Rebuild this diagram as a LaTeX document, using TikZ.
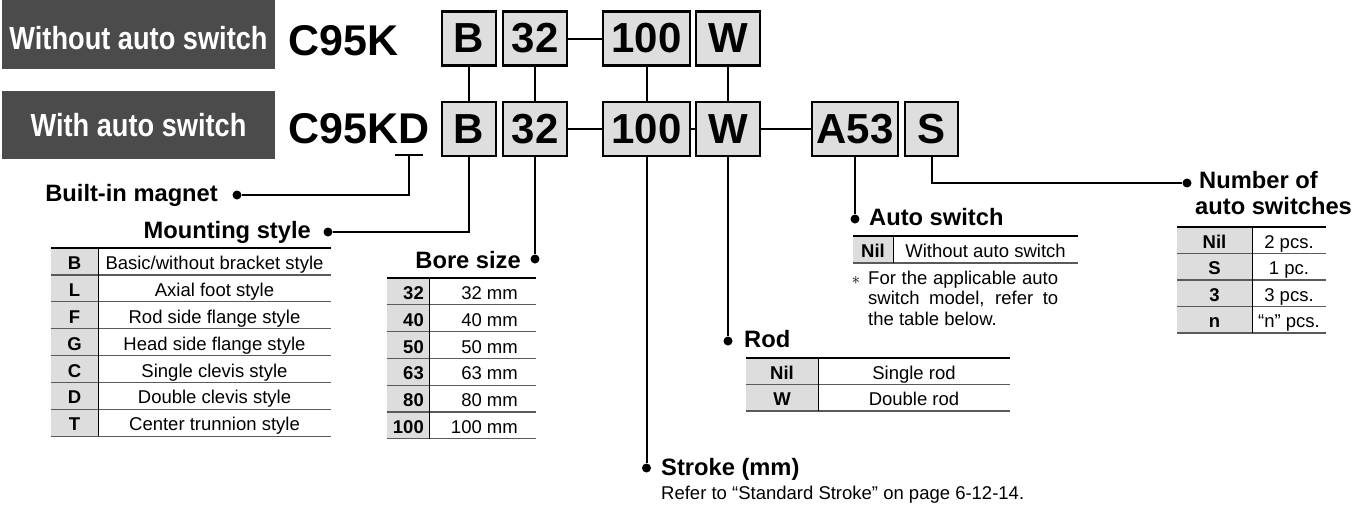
\documentclass[tikz,border=0pt]{standalone}
\usepackage{fontspec}
\setmainfont{Liberation Sans}
\newfontfamily\narrowfont[FakeStretch=0.85]{Liberation Sans}
\usetikzlibrary{positioning, calc}
\definecolor{bannerbg}{HTML}{4B4B4B}
\definecolor{codefill}{HTML}{DEDEDE}
\definecolor{keyfill}{HTML}{DDDDDD}
\definecolor{rulegray}{HTML}{5A5A5A}
\newcommand{\setfs}[1]{\fontsize{#1}{#1}\selectfont}
\newcommand{\setfsl}[2]{\fontsize{#1}{#2}\selectfont}

\begin{document}
\begin{tikzpicture}[x=1pt, y=-1pt,
    banner/.style={fill=bannerbg, text=white, minimum width=273pt, minimum height=#1, inner sep=0pt, font=\narrowfont\bfseries\setfs{32}},
    codebox/.style={draw, line width=2.2pt, fill=codefill, minimum width=#1, minimum height=54pt, inner sep=0pt, font=\bfseries\setfs{42}},
    part/.style={anchor=base west, inner sep=0pt, font=\bfseries\setfs{43}},
    headtxt/.style={inner sep=0pt, font=\bfseries\setfs{23.7}},
    tabcell/.style={inner sep=0pt, anchor=base, font=\setfs{18.5}},
    keycell/.style={inner sep=0pt, anchor=base, font=\bfseries\setfs{18.5}},
    leaddot/.style={circle, fill, inner sep=0pt, minimum size=9pt},
    leader/.style={line width=2pt},
    toprule/.style={line width=2.2pt},
    rowrule/.style={line width=1.3pt, color=rulegray},
    colrule/.style={line width=1pt}
]
\useasboundingbox (0,0) rectangle (1368,504);

\node[banner=69pt, text height=31pt] (nobanner) at (138.5,34.5) {Without auto switch};
\node[banner=68pt] (wbanner) at (138.5,125) {With auto switch};
\node[part] (nocode) at (288,55) {C95K};
\node[part] (wcode) at (288,143) {C95KD};

\node[codebox=54pt] (tB) at (469,38.5) {B};
\node[codebox=64pt] (t32) at (535,38.5) {32};
\node[codebox=87pt] (t100) at (646.5,38.5) {100};
\node[codebox=64pt] (tW) at (728,38.5) {W};

\node[codebox=54pt] (bB) at (469,129) {B};
\node[codebox=64pt] (b32) at (535,129) {32};
\node[codebox=87pt] (b100) at (646.5,129) {100};
\node[codebox=64pt] (bW) at (728,129) {W};
\node[codebox=86pt] (bA) at (855,129) {A53};
\node[codebox=53pt] (bS) at (931.5,129) {S};

\draw[leader] (tB) -- (bB);
\draw[leader] (t32) -- (b32);
\draw[leader] (t100) -- (b100);
\draw[leader] (tW) -- (bW);
\draw[leader] (t32) -- (t100);
\draw[leader] (b32) -- (b100);
\draw[leader] (b100) -- (bW);
\draw[leader] (bW) -- (bA);

\coordinate (tickL) at (395,155);
\coordinate (tickR) at (423,155);
\coordinate (tickM) at (409,155);
\draw[leader] (tickL) -- (tickR);

\node[leaddot] (magdot) at (237,195) {};
\node[leaddot] (msdot) at (328,232) {};
\node[leaddot] (bsdot) at (b32 |- 0,259) {};
\node[leaddot] (stdot) at (b100 |- 0,468) {};
\node[leaddot] (rddot) at (bW |- 0,341) {};
\node[leaddot] (asdot) at (bA |- 0,219) {};
\node[leaddot] (nsdot) at (1187,183) {};

\draw[leader] (tickM) |- (magdot);
\draw[leader] (bB) |- (msdot);
\draw[leader] (b32) -- (bsdot);
\draw[leader] (b100) -- (stdot);
\draw[leader] (bW) -- (rddot);
\draw[leader] (bA) -- (asdot);
\draw[leader] (bS) |- (nsdot);

\node[headtxt, anchor=base east] (magtxt) at (218,201) {Built-in magnet};
\node[headtxt, anchor=base east] (mstxt) at (311,238) {Mounting style};
\node[headtxt, anchor=base east] (bstxt) at (521,268) {Bore size};
\node[headtxt, anchor=base west] (astxt) at (869,225) {Auto switch};
\node[headtxt, anchor=base west] (rdtxt) at (744,347) {Rod};
\node[headtxt, anchor=base west] (sttxt) at (661,475) {Stroke (mm)};
\node[tabcell, anchor=base west] (stnote) at (661,499) {Refer to “Standard Stroke” on page 6-12-14.};
\node[headtxt, anchor=base west] (nstxt) at (1199,188) {Number of};
\node[headtxt, anchor=base west] (nstxt2) at (1195,214) {auto switches};

% mounting style
\fill[keyfill] (51,248) rectangle (98,436.3);
\foreach \k/\v [count=\i] in {B/{Basic/without bracket style}, L/Axial foot style, F/Rod side flange style, G/Head side flange style, C/Single clevis style, D/Double clevis style, T/Center trunnion style}{
  \node[keycell] (mk\i) at (74.5,{248+(\i-0.5)*26.9+8}) {\k};
  \node[tabcell] (mv\i) at (214.5,{248+(\i-0.5)*26.9+8}) {\v};
  \draw[rowrule] (51,{248+\i*26.9}) -- (331,{248+\i*26.9});
}
\draw[toprule] (51,248) -- (331,248);
\draw[colrule] (98,248) -- (98,436.3);

% bore size
\fill[keyfill] (387,278) rectangle (429,438.8);
\foreach \k [count=\i] in {32, 40, 50, 63, 80, 100}{
  \node[keycell, anchor=base east] (bk\i) at (424,{278+(\i-0.5)*26.8+8}) {\k};
  \node[tabcell, anchor=base east] (bv\i) at (518,{278+(\i-0.5)*26.8+8}) {\k\ mm};
  \draw[rowrule] (387,{278+\i*26.8}) -- (536,{278+\i*26.8});
}
\draw[toprule] (387,278) -- (536,278);
\draw[colrule] (429,278) -- (429,438.8);

% auto switch
\fill[keyfill] (853,236) rectangle (893,263);
\node[keycell] (ak1) at (873,257.5) {Nil};
\node[tabcell] (av1) at (985.5,257.5) {Without auto switch};
\draw[rowrule] (853,263) -- (1078,263);
\draw[toprule] (853,236) -- (1078,236);
\draw[colrule] (893,236) -- (893,263);
\node[tabcell, anchor=center, font=\setfs{16}] (astar) at (856,280) {$\ast$};
\node[tabcell, anchor=north west, text width=190pt, align=justify, font=\setfsl{18.5}{20.5}] (asnote) at (868,270.5) {For the applicable auto\linebreak switch model, refer to\linebreak the table below.};

% rod
\fill[keyfill] (746,358) rectangle (818,411);
\foreach \k/\v [count=\i] in {Nil/Single rod, W/Double rod}{
  \node[keycell] (rk\i) at (782,{358+(\i-0.5)*26.5+8}) {\k};
  \node[tabcell] (rv\i) at (914,{358+(\i-0.5)*26.5+8}) {\v};
  \draw[rowrule] (746,{358+\i*26.5}) -- (1010,{358+\i*26.5});
}
\draw[toprule] (746,358) -- (1010,358);
\draw[colrule] (818,358) -- (818,411);

% number of auto switches
\fill[keyfill] (1177,227) rectangle (1252,333);
\foreach \k/\v [count=\i] in {Nil/2 pcs., S/1 pc., 3/3 pcs., n/“n” pcs.}{
  \node[keycell] (nk\i) at (1214.5,{227+(\i-0.5)*26.5+8}) {\k};
  \node[tabcell] (nv\i) at (1289,{227+(\i-0.5)*26.5+8}) {\v};
  \draw[rowrule] (1177,{227+\i*26.5}) -- (1326,{227+\i*26.5});
}
\draw[toprule] (1177,227) -- (1326,227);
\draw[colrule] (1252,227) -- (1252,333);
\end{tikzpicture}
\end{document}
